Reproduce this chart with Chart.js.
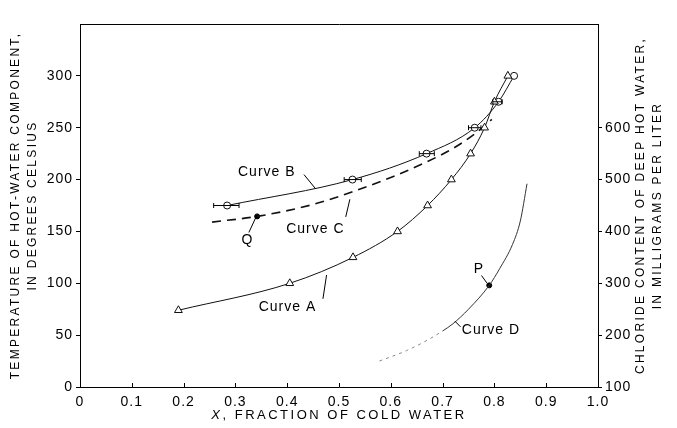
<!DOCTYPE html>
<html><head><meta charset="utf-8">
<script src="https://cdn.jsdelivr.net/npm/chart.js@4/dist/chart.umd.min.js"></script>
<style>html,body{margin:0;padding:0;background:#fff;}#wrap{width:677px;height:428px;}</style>
</head><body><div id="wrap"><canvas id="c" width="677" height="428"></canvas></div>
<script>
// ---------- data ----------
const xTickLabels = ['0','0.1','0.2','0.3','0.4','0.5','0.6','0.7','0.8','0.9','1.0'];
const yLeftTicks = [0,50,100,150,200,250,300];
const yRightTicks = [100,200,300,400,500,600];

const curveA_x = [0.19, 0.405, 0.527, 0.613, 0.671, 0.717, 0.754, 0.781, 0.80, 0.826];
const curveA_y = [74, 100, 125, 150, 175, 200, 225, 250, 275, 300];

const curveB_x = [0.284, 0.526, 0.669, 0.762, 0.808, 0.838];
const curveB_y = [175, 200, 225, 250, 275, 300];
const curveB_errLo = [0.258, 0.51, 0.655, 0.75, 0.797, null];
const curveB_errHi = [0.307, 0.543, 0.684, 0.774, 0.815, null];

const curveC_x = [0.255, 0.342, 0.45, 0.525, 0.60, 0.669, 0.72, 0.762, 0.795];
const curveC_y = [159, 164.5, 176, 188, 202, 217, 230, 244, 258];

const pointQ_x = [0.342];
const pointQ_y = [164.5];

const curveD_x = [0.578, 0.63, 0.67, 0.70, 0.72, 0.75, 0.79, 0.81, 0.835, 0.85, 0.863];
const curveD_y = [150, 170, 190, 208, 222, 250, 296, 328, 375, 420, 492];

const pointP_x = [0.79];
const pointP_y = [296];

const yTitle = ['TEMPERATURE OF HOT-WATER COMPONENT,', 'IN DEGREES CELSIUS'];
const y2Title = ['CHLORIDE CONTENT OF DEEP HOT WATER,', 'IN MILLIGRAMS PER LITER'];
const xTitleItalic = 'X';
const xTitleRest = ', FRACTION OF COLD WATER';

// ---------- annotation layout (positions in data units) ----------
const notes = [
  {text:'Curve B', x:0.305, y:207, axis:'y'},
  {text:'Curve C', x:0.398, y:152.6, axis:'y'},
  {text:'Curve A', x:0.345, y:77, axis:'y'},
  {text:'Q', x:0.312, y:142, axis:'y'},
  {text:'P', x:0.760, y:327, axis:'y2'},
  {text:'Curve D', x:0.737, y:210, axis:'y2'}
];
const leaders = [
  {x1:0.4324, y1:204.8, x2:0.455, y2:191, axis:'y'},
  {x1:0.513, y1:164, x2:0.521, y2:181, axis:'y'},
  {x1:0.469, y1:85, x2:0.476, y2:108, axis:'y'},
  {x1:0.326, y1:149, x2:0.339, y2:163, axis:'y'},
  {x1:0.775, y1:315, x2:0.786, y2:300, axis:'y2'},
  {x1:0.7347, y1:216, x2:0.7237, y2:227, axis:'y2'}
];

const FONT = '"Liberation Sans", Arial, Helvetica, sans-serif';
const pts = (xs, ys) => xs.map((x,i)=>({x, y: ys[i]}));

const extras = {
  id:'extras',
  beforeDraw(chart){ chart.ctx.letterSpacing = '1px'; },
  afterDatasetsDraw(chart){
    const {ctx, scales} = chart;
    const x = scales.x;
    ctx.save();
    ctx.strokeStyle = '#000'; ctx.fillStyle = '#000'; ctx.lineWidth = 1;
    // inward tick marks on the x axis
    const by = chart.chartArea.bottom;
    ctx.beginPath();
    x.ticks.forEach(t=>{
      const px = Math.round(x.getPixelForValue(t.value)) + 0.5;
      ctx.moveTo(px, by); ctx.lineTo(px, by - 4);
    });
    ctx.stroke();
    // horizontal error bars on curve B
    curveB_x.forEach((xv,i)=>{
      if (curveB_errLo[i] == null) return;
      const py = scales.y.getPixelForValue(curveB_y[i]);
      const a = x.getPixelForValue(curveB_errLo[i]);
      const b = x.getPixelForValue(curveB_errHi[i]);
      ctx.beginPath();
      ctx.moveTo(a, py); ctx.lineTo(b, py);
      ctx.moveTo(a, py-2.5); ctx.lineTo(a, py+2.5);
      ctx.moveTo(b, py-2.5); ctx.lineTo(b, py+2.5);
      ctx.stroke();
    });
    // leader lines
    leaders.forEach(l=>{
      const s = scales[l.axis];
      ctx.beginPath();
      ctx.moveTo(x.getPixelForValue(l.x1), s.getPixelForValue(l.y1));
      ctx.lineTo(x.getPixelForValue(l.x2), s.getPixelForValue(l.y2));
      ctx.stroke();
    });
    // labels
    ctx.letterSpacing = '1px';
    ctx.font = '14px ' + FONT;
    ctx.textAlign = 'left'; ctx.textBaseline = 'middle';
    notes.forEach(n=>{
      ctx.fillText(n.text, x.getPixelForValue(n.x), scales[n.axis].getPixelForValue(n.y));
    });
    ctx.restore();
  },
  afterDraw(chart){
    const ctx = chart.ctx, ca = chart.chartArea;
    ctx.save();
    ctx.fillStyle = '#000';
    ctx.textBaseline = 'middle'; ctx.textAlign = 'center';
    ctx.letterSpacing = '2.3px';
    ctx.font = '12px ' + FONT;
    const cy = (ca.top + ca.bottom) / 2;
    const drawV = (lines, xs) => lines.forEach((t,i)=>{
      ctx.save(); ctx.translate(xs[i], cy); ctx.rotate(-Math.PI/2); ctx.fillText(t, 0, 0); ctx.restore();
    });
    drawV(yTitle, [ca.left - 64, ca.left - 47]);
    drawV(y2Title, [ca.right + 43, ca.right + 60]);
    ctx.letterSpacing = '2.5px';
    ctx.font = 'italic 13px ' + FONT;
    const w1 = ctx.measureText(xTitleItalic).width;
    ctx.font = '13px ' + FONT;
    const w2 = ctx.measureText(xTitleRest).width;
    const start = (ca.left + ca.right)/2 - (w1 + w2)/2;
    ctx.textAlign = 'left';
    ctx.font = 'italic 13px ' + FONT;
    ctx.fillText(xTitleItalic, start, 415);
    ctx.font = '13px ' + FONT;
    ctx.fillText(xTitleRest, start + w1, 415);
    ctx.restore();
  }
};

const lineBase = {borderColor:'#111', borderWidth:1, cubicInterpolationMode:'monotone', fill:false};

new Chart(document.getElementById('c'), {
  type:'line',
  data:{ datasets:[
    {...lineBase, label:'Curve A', data:pts(curveA_x, curveA_y), yAxisID:'y',
      pointStyle:'triangle', pointRadius:4.5, pointBackgroundColor:'#fff', pointBorderColor:'#111', pointBorderWidth:1},
    {...lineBase, label:'Curve B', data:pts(curveB_x, curveB_y), yAxisID:'y',
      pointStyle:'circle', pointRadius:3.5, pointBackgroundColor:'#fff', pointBorderColor:'#111', pointBorderWidth:1},
    {...lineBase, label:'Curve C', data:pts(curveC_x, curveC_y), yAxisID:'y',
      borderDash:[9,6], borderWidth:1.6, pointRadius:0},
    {label:'Q', data:pts(pointQ_x, pointQ_y), yAxisID:'y', showLine:false,
      pointRadius:2.5, pointBackgroundColor:'#000', pointBorderColor:'#000'},
    {...lineBase, label:'Curve D', data:pts(curveD_x, curveD_y), yAxisID:'y2',
      borderColor:'#555', borderWidth:1, pointRadius:0,
      segment:{borderDash: c => c.p1.parsed.x < 0.72 ? [3,4] : undefined,
               borderColor: c => c.p1.parsed.x < 0.72 ? '#888' : '#333'}},
    {label:'P', data:pts(pointP_x, pointP_y), yAxisID:'y2', showLine:false,
      pointRadius:2.5, pointBackgroundColor:'#000', pointBorderColor:'#000'}
  ]},
  options:{
    responsive:false, animation:false, devicePixelRatio:1,
    layout:{padding:{top:24, left:0, right:0, bottom:0}},
    plugins:{legend:{display:false}, tooltip:{enabled:false}},
    elements:{line:{tension:0.4}},
    scales:{
      x:{type:'linear', position:'bottom', min:0, max:1,
        afterFit: s => { s.height = 41; },
        grid:{display:true, drawOnChartArea:false, drawTicks:false, color:'#000'},
        border:{display:true, color:'#000', width:1},
        ticks:{stepSize:0.1, color:'#000', padding:7, maxRotation:0, autoSkip:false,
          font:{family:FONT, size:14}, callback:(v,i)=> xTickLabels[i] ?? ''}},
      xTop:{type:'linear', position:'top', min:0, max:1, display:true,
        afterFit: s => { s.height = 0; },
        grid:{display:false}, border:{display:true, color:'#000', width:1},
        ticks:{display:false}},
      y:{type:'linear', position:'left', min:0, max:350,
        afterFit: s => { s.width = 80; },
        grid:{display:true, drawOnChartArea:false, drawTicks:true, tickLength:4, color:'#000'},
        border:{display:true, color:'#000', width:1},
        ticks:{stepSize:50, color:'#000', padding:3, font:{family:FONT, size:14},
          callback: v => yLeftTicks.includes(v) ? String(v) : null}},
      y2:{type:'linear', position:'right', min:100, max:800,
        afterFit: s => { s.width = 79; },
        grid:{display:true, drawOnChartArea:false, drawTicks:true, tickLength:4, color:'#000'},
        border:{display:true, color:'#000', width:1},
        ticks:{stepSize:100, color:'#000', padding:3, font:{family:FONT, size:14},
          callback: v => yRightTicks.includes(v) ? String(v) : null}}
    }
  },
  plugins:[extras]
});
</script></body></html>
